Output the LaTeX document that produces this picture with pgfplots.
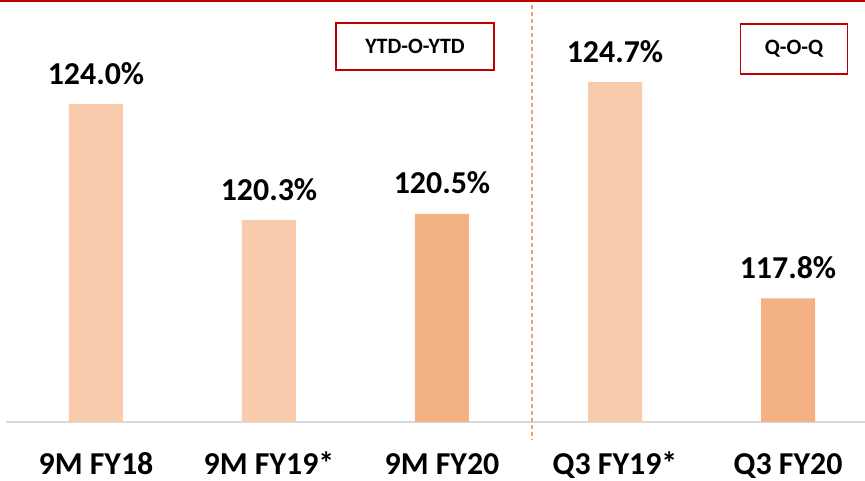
\documentclass[border=0pt]{standalone}
\usepackage{pgfplots}
\pgfplotsset{compat=1.18}
\usepackage{fontspec}
\setmainfont{Carlito}

\definecolor{barlight}{HTML}{F8CBAD}
\definecolor{bardark}{HTML}{F4B183}
\definecolor{boxred}{HTML}{C00000}
\definecolor{sepline}{HTML}{F2A06A}
\definecolor{baseline}{HTML}{D9D9D9}

\begin{document}
\begin{tikzpicture}
\useasboundingbox (0,0) rectangle (865bp,481bp);
\begin{axis}[
  at={(6bp,59bp)}, anchor=south west,
  scale only axis,
  width=859bp, height=422bp,
  xmin=-0.52, xmax=4.445,
  ymin=113.86, ymax=127.32,
  axis x line=bottom,
  axis y line=none,
  x axis line style={draw=baseline, line width=1.8bp, -},
  xtick={0,1,2,3,4},
  xticklabels={9M FY18, 9M FY19*, 9M FY20, Q3 FY19*, Q3 FY20},
  major tick length=0pt,
  xticklabel style={anchor=base, yshift=-52bp, font=\fontsize{32}{32}\selectfont\bfseries},
  ybar, bar width=54bp, bar shift=0pt,
  nodes near coords={\pgfmathprintnumber[fixed,fixed zerofill,precision=1,assume math mode=true]{\pgfplotspointmeta}\%},
  nodes near coords style={anchor=base, yshift=20bp, font=\fontsize{32}{32}\selectfont\bfseries, text=black},
]
% lighter bars: comparison periods
\addplot[fill=barlight, draw=none] coordinates {(0,124.0) (1,120.3) (3,124.7)};
% darker bars: current periods
\addplot[fill=bardark, draw=none] coordinates {(2,120.5) (4,117.8)};
\coordinate (septop) at (axis cs:2.52,127.32);
\end{axis}
% separator between the year-to-date and quarterly panels
\draw[sepline, line width=1.2bp, dash pattern=on 4bp off 3bp] ([yshift=-5bp]septop) -- ++(0,-435bp);
% red rule along the top
\draw[boxred, line width=2.5bp] (0,480bp) -- (865bp,480bp);
% panel captions
\node[draw=boxred, line width=1.8bp, minimum width=158bp, minimum height=47bp, inner sep=0pt,
      font=\fontsize{22}{22}\selectfont\bfseries] at (415bp,434.5bp) {YTD-O-YTD};
\node[draw=boxred, line width=1.8bp, minimum width=107bp, minimum height=50bp, inner sep=0pt,
      font=\fontsize{22}{22}\selectfont\bfseries] at (794bp,432bp) {Q-O-Q};
\end{tikzpicture}
\end{document}
